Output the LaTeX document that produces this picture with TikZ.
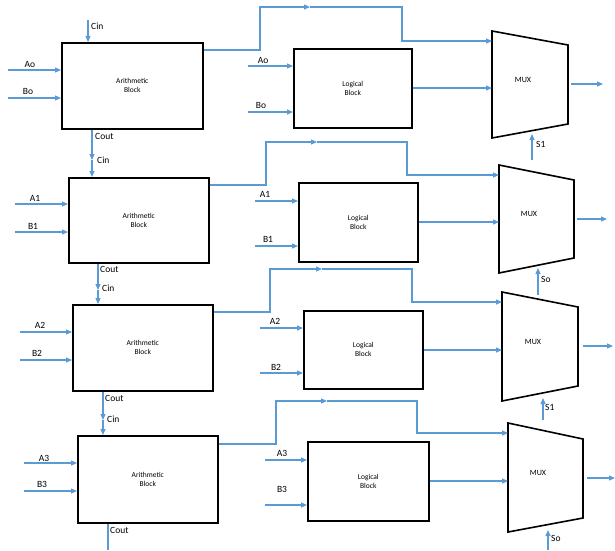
\documentclass[tikz,border=0pt]{standalone}
\usepackage{fontspec}
\setmainfont{Carlito}
\usetikzlibrary{arrows.meta}
\definecolor{wire}{HTML}{5B9BD5}
\begin{document}
\begin{tikzpicture}[x=1pt,y=-1pt,
  blk/.style={draw=black,line width=1.6pt,anchor=north west,align=center,
    font=\fontsize{7.5}{9}\selectfont,inner sep=0pt},
  sig/.style={draw=wire,line width=1.2pt,-{Triangle[length=6pt,width=5pt]}},
  wireline/.style={draw=wire,line width=1.2pt},
  muxbox/.style={draw=black,line width=1.6pt,line join=miter},
  lbl/.style={font=\fontsize{9.5}{11}\selectfont,inner sep=0pt},
  muxlbl/.style={font=\fontsize{8}{9}\selectfont,inner sep=0pt}]
\useasboundingbox (0,0) rectangle (615,550);
% ---------- blocks ----------
\node[blk,minimum width=141pt,minimum height=86pt] (ar1) at (61,42) {Arithmetic\\Block};
\node[blk,minimum width=140pt,minimum height=85pt] (ar2) at (68,177) {Arithmetic\\Block};
\node[blk,minimum width=140pt,minimum height=86pt] (ar3) at (72,304) {Arithmetic\\Block};
\node[blk,minimum width=140pt,minimum height=87pt] (ar4) at (77,435) {Arithmetic\\Block};
\node[blk,minimum width=118pt,minimum height=79pt] (lb1) at (293,48) {Logical\\Block};
\node[blk,minimum width=119pt,minimum height=79pt] (lb2) at (298,182) {Logical\\Block};
\node[blk,minimum width=119pt,minimum height=78pt] (lb3) at (303,310) {Logical\\Block};
\node[blk,minimum width=121pt,minimum height=79pt] (lb4) at (307,441) {Logical\\Block};
% ---------- MUX shapes ----------
\draw[muxbox] (492,31) coordinate (m1tl) -- (568,45) -- (568,124) -- (492,138) coordinate (m1bl) -- cycle;
\draw[muxbox] (499,165) coordinate (m2tl) -- (574,180) -- (574,258) -- (499,273) coordinate (m2bl) -- cycle;
\draw[muxbox] (502,292) coordinate (m3tl) -- (578,307) -- (578,386) -- (502,401) coordinate (m3bl) -- cycle;
\draw[muxbox] (508,423) coordinate (m4tl) -- (583,439) -- (583,518) -- (508,532) coordinate (m4bl) -- cycle;
\node[muxlbl] (mx1) at (523,80) {MUX};
\node[muxlbl] (mx2) at (529,214) {MUX};
\node[muxlbl] (mx3) at (533,342) {MUX};
\node[muxlbl] (mx4) at (538,473) {MUX};
% ---------- free ends ----------
\coordinate (a0) at (8,70);  \coordinate (b0) at (8,98);
\coordinate (la0) at (248,66); \coordinate (lb0) at (248,112);
\coordinate (a1) at (15,204); \coordinate (b1) at (15,232);
\coordinate (la1) at (255,201); \coordinate (lb1i) at (255,246);
\coordinate (a2) at (20,332); \coordinate (b2) at (20,360);
\coordinate (la2) at (260,328); \coordinate (lb2i) at (260,373);
\coordinate (a3) at (24,463); \coordinate (b3) at (24,491);
\coordinate (la3) at (265,460); \coordinate (lb3i) at (265,505);
\coordinate (cin0) at (88,20);
\coordinate (cout3) at (108,550);
\coordinate (o1) at (603,84); \coordinate (o2) at (607,219);
\coordinate (o3) at (613,346); \coordinate (o4) at (615,478);
\coordinate (s1) at (532,160); \coordinate (s2) at (538,295);
\coordinate (s3) at (543,420); \coordinate (s4) at (548,550);
% ---------- inputs ----------
\draw[sig] (a0) -- (a0 -| ar1.west);
\draw[sig] (b0) -- (b0 -| ar1.west);
\draw[sig] (la0) -- (la0 -| lb1.west);
\draw[sig] (lb0) -- (lb0 -| lb1.west);
\draw[sig] (a1) -- (a1 -| ar2.west);
\draw[sig] (b1) -- (b1 -| ar2.west);
\draw[sig] (la1) -- (la1 -| lb2.west);
\draw[sig] (lb1i) -- (lb1i -| lb2.west);
\draw[sig] (a2) -- (a2 -| ar3.west);
\draw[sig] (b2) -- (b2 -| ar3.west);
\draw[sig] (la2) -- (la2 -| lb3.west);
\draw[sig] (lb2i) -- (lb2i -| lb3.west);
\draw[sig] (a3) -- (a3 -| ar4.west);
\draw[sig] (b3) -- (b3 -| ar4.west);
\draw[sig] (la3) -- (la3 -| lb4.west);
\draw[sig] (lb3i) -- (lb3i -| lb4.west);
% labels of inputs
\node[lbl] (ta0) at (30,64) {Ao};
\node[lbl] (tb0) at (28,91) {Bo};
\node[lbl] (tla0) at (263,60) {Ao};
\node[lbl] (tlb0) at (261,105) {Bo};
\node[lbl] (ta1) at (35,198) {A1};
\node[lbl] (tb1) at (33,226) {B1};
\node[lbl] (tla1) at (265,194) {A1};
\node[lbl] (tlb1) at (268,239) {B1};
\node[lbl] (ta2) at (40,325) {A2};
\node[lbl] (tb2) at (37,353) {B2};
\node[lbl] (tla2) at (275,321) {A2};
\node[lbl] (tlb2) at (276,367) {B2};
\node[lbl] (ta3) at (44,458) {A3};
\node[lbl] (tb3) at (42,484) {B3};
\node[lbl] (tla3) at (282,453) {A3};
\node[lbl] (tlb3) at (282,489) {B3};
% ---------- carry chain ----------
\draw[sig] (cin0) -- (cin0 |- ar1.north);
\node[lbl,anchor=west] (tcin0) at (91,26) {Cin};
\coordinate (c1a) at (92,160);
\draw[sig] (92,0 |- ar1.south) -- (c1a);
\draw[sig] (c1a) -- (c1a |- ar2.north);
\node[lbl,anchor=west] (tco1) at (95,136) {Cout};
\node[lbl,anchor=west] (tci1) at (97,160) {Cin};
\coordinate (c2a) at (98,290);
\draw[sig] (98,0 |- ar2.south) -- (c2a);
\draw[sig] (c2a) -- (c2a |- ar3.north);
\node[lbl,anchor=west] (tco2) at (100,269) {Cout};
\node[lbl,anchor=west] (tci2) at (102,288) {Cin};
\coordinate (c3a) at (103,420);
\draw[sig] (103,0 |- ar3.south) -- (c3a);
\draw[sig] (c3a) -- (c3a |- ar4.north);
\node[lbl,anchor=west] (tco3) at (105,398) {Cout};
\node[lbl,anchor=west] (tci3) at (107,419) {Cin};
\draw[wireline] (108,0 |- ar4.south) -- (cout3);
\node[lbl,anchor=west] (tco4) at (110,530) {Cout};
% ---------- arithmetic outputs to MUX ----------
\draw[sig] (ar1.east |- 0,50) -- (260,50) -- (260,7) -- (310,7);
\draw[sig] (310,7) -- (402,7) -- (402,41) -- (m1tl |- 0,41);
\draw[sig] (ar2.east |- 0,185) -- (266,185) -- (266,142) -- (317,142);
\draw[sig] (317,142) -- (407,142) -- (407,175) -- (m2tl |- 0,175);
\draw[sig] (ar3.east |- 0,312) -- (270,312) -- (270,269) -- (322,269);
\draw[sig] (322,269) -- (412,269) -- (412,302) -- (m3tl |- 0,302);
\draw[sig] (ar4.east |- 0,444) -- (276,444) -- (276,401) -- (327,401);
\draw[sig] (327,401) -- (417,401) -- (417,433) -- (m4tl |- 0,433);
% ---------- logical outputs ----------
\draw[sig] (lb1.east |- 0,88) -- (m1tl |- 0,88);
\draw[sig] (lb2.east |- 0,222) -- (m2tl |- 0,222);
\draw[sig] (lb3.east |- 0,350) -- (m3tl |- 0,350);
\draw[sig] (lb4.east |- 0,481) -- (m4tl |- 0,481);
% ---------- MUX outputs ----------
\draw[sig] (571,84) -- (o1);
\draw[sig] (577,219) -- (o2);
\draw[sig] (583,346) -- (o3);
\draw[sig] (587,478) -- (o4);
% ---------- selects ----------
\draw[sig] (s1) -- (532,134);
\draw[sig] (s2) -- (538,268);
\draw[sig] (s3) -- (543,398);
\draw[sig] (s4) -- (548,530);
\node[lbl,anchor=west] (ts1) at (536,144) {S1};
\node[lbl,anchor=west] (ts2) at (541,279) {So};
\node[lbl,anchor=west] (ts3) at (545,407) {S1};
\node[lbl,anchor=west] (ts4) at (551,538) {So};
\end{tikzpicture}
\end{document}
